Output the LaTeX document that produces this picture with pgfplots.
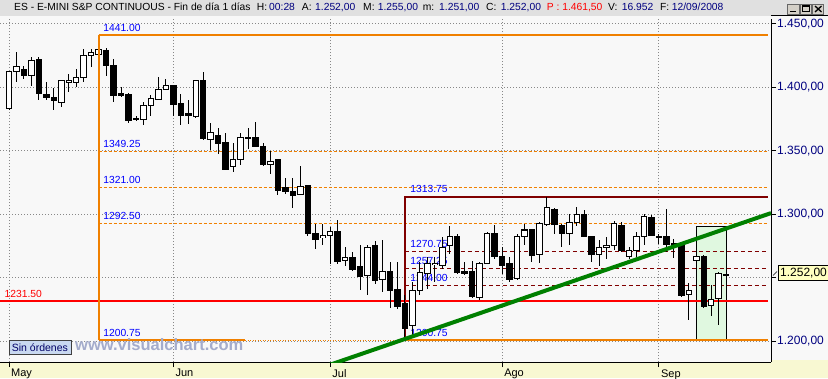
\documentclass[border=0pt]{standalone}
\usepackage{fontspec}
\setmainfont{Liberation Sans}
\usepackage{pgfplots}
\pgfplotsset{compat=1.18}
\usepackage{pgfplotstable}

\definecolor{fiborange}{RGB}{240,128,0}
\definecolor{fibred}{RGB}{128,0,0}
\definecolor{navy}{RGB}{0,0,128}
\definecolor{plotbg}{RGB}{248,248,248}
\definecolor{bandyellow}{RGB}{248,248,210}
\definecolor{titlegray}{RGB}{224,224,224}
\definecolor{gridgray}{RGB}{136,136,136}
\definecolor{trendgreen}{RGB}{0,128,0}
\definecolor{rectgreen}{RGB}{224,248,224}
\definecolor{lblue}{RGB}{0,0,255}
\definecolor{pricey}{RGB}{255,255,192}
\definecolor{sinbox}{RGB}{200,216,240}
\definecolor{wmark}{RGB}{164,172,204}
\definecolor{btngray}{RGB}{212,208,200}

\tikzset{lbl/.style={anchor=base west, inner sep=0pt, yshift=4pt, text=lblue, font=\fontsize{10.3}{12}\selectfont}}

\pgfplotstableread{
i O H L C
0 1383 1413 1382 1412
1 1412 1427.5 1404 1416.5
2 1414 1417 1406.5 1409
3 1409 1423.5 1401 1421
4 1422 1424 1389.5 1395
5 1394.5 1404 1389.5 1392
6 1392 1399 1382 1389.5
7 1388 1405.5 1384 1405
8 1404 1410.5 1396 1405
9 1404 1414.5 1400 1407.5
10 1407.5 1430 1404 1425
11 1425 1430 1415.5 1427
12 1426 1441 1422 1429.5
13 1429 1431 1409 1417
14 1417 1422 1388 1393.5
15 1395 1400 1392 1393.5
16 1394.5 1395 1372 1374
17 1375.5 1377 1373 1374.5
18 1374.5 1388 1370 1385.5
19 1385.5 1393.5 1377.5 1391
20 1390.5 1408 1389.5 1398
21 1398 1406.5 1397.5 1401
22 1401 1402 1377.5 1386
23 1387 1394.5 1370 1378
24 1379 1389.5 1371 1377.5
25 1377 1406 1376 1405
26 1405 1412 1358 1359.5
27 1359 1371.5 1350.5 1364
28 1362 1367.5 1347.5 1356
29 1356.5 1364 1335 1335.5
30 1337.5 1356 1333 1343
31 1343 1364 1339 1360
32 1360.5 1367.5 1351.5 1359.5
33 1360.5 1372.5 1353 1353.5
34 1353.5 1356 1338 1339
35 1339 1350 1331.5 1341.5
36 1343 1343.5 1315 1318.5
37 1321 1328.5 1316 1318
38 1318 1328.5 1305 1314.5
39 1315.5 1338 1315 1322
40 1322.5 1323 1283 1284.5
41 1285 1292.5 1272.5 1280
42 1281.5 1292.5 1275.5 1283
43 1283.5 1290 1261 1286.5
44 1286.5 1295 1261 1263
45 1263.5 1274 1259.5 1265.5
46 1265.5 1270 1255.5 1256.5
47 1259 1275.5 1240.5 1251
48 1251.5 1276 1236.5 1274
49 1275 1278.5 1245 1248
50 1248.5 1279.5 1238.5 1255
51 1255 1262 1226 1240
52 1240.5 1262 1225.5 1227.5
53 1229.5 1236 1200.75 1210
54 1212.5 1246.5 1203 1240
55 1240 1262 1236 1254
56 1253 1266 1241 1261
57 1260 1266 1246.5 1261.5
58 1259.5 1282 1257 1274
59 1275.5 1291 1268.5 1282
60 1282 1284.5 1253 1254
61 1254.5 1262 1252 1253
62 1255 1263 1234 1235.5
63 1234.5 1262.5 1232 1261.5
64 1261.5 1286 1260.5 1284.5
65 1284.5 1291.5 1265 1267
66 1267 1274 1253 1259.5
67 1261.5 1266 1246.5 1248.5
68 1249 1284 1248 1282.5
69 1282.5 1292.5 1275.5 1287.5
70 1288 1288.5 1262 1267.5
71 1268.5 1293.5 1261.5 1292.5
72 1292 1313.75 1291 1305.5
73 1303.5 1304.5 1284.5 1292
74 1291 1292 1274.5 1284.5
75 1284.5 1300 1275.5 1293.5
76 1293.5 1305.5 1291 1300
77 1300 1303 1282 1282.5
78 1282 1282.5 1262 1268.5
79 1268.5 1279.5 1259.5 1274
80 1274 1282 1265 1275.5
81 1275.5 1294.5 1271.5 1293
82 1291 1293.5 1270 1271.5
83 1266.5 1274 1265 1271.5
84 1271.5 1286 1266 1282.5
85 1282.5 1300 1275.5 1298
86 1297.5 1299 1282.5 1283
87 1282.5 1284.5 1276.5 1281.5
88 1282 1304 1270.5 1276
89 1276.5 1280.5 1265.5 1275.5
90 1276 1278 1235 1236
91 1237 1246 1216.5 1240
92 1263.5 1276.5 1263 1266.5
93 1267 1268 1226 1227.5
94 1228 1244.5 1220 1233
95 1233.5 1254.5 1212.5 1253.5
96 1252 1255 1251 1252
}\candles

\begin{document}
\begin{tikzpicture}[x=1pt,y=1pt]
\useasboundingbox (0,0) rectangle (828,378);
\fill[plotbg] (0,0) rectangle (828,378);
\fill[bandyellow] (0,0) rectangle (828,18);
\fill[titlegray] (0,362) rectangle (828,378);
\begin{axis}[
  at={(0,12.5)}, anchor=south west,
  scale only axis, width=771pt, height=343pt,
  xmin=-1.205, xmax=102.0, ymin=1183.46, ymax=1453.54,
  axis x line*=bottom, axis y line*=right,
  axis line style={black, line width=1pt},
  xtick={0,22,43,66,87}, xticklabels={May,Jun,Jul,Ago,Sep},
  ytick={1200,1250,1300,1350,1400,1450},
  yticklabels={{1.200,00},{},{1.300,00},{1.350,00},{1.400,00},{1.450,00}},
  tick align=outside, major tick length=5pt,
  tick style={black, line width=1pt},
  xmajorgrids, ymajorgrids,
  major grid style={gridgray, line width=1pt, dash pattern=on 1pt off 2pt},
  xticklabel style={anchor=north west, inner sep=0pt, xshift=2pt, yshift=-2pt, font=\fontsize{11}{12}\selectfont, text=black},
  yticklabel style={anchor=west, inner sep=0pt, xshift=1pt, font=\fontsize{12}{13}\selectfont, text=navy},
  axis background/.style={fill=plotbg},
]
% green rectangle
\addplot[draw=black, line width=1pt, fill=rectgreen] coordinates {(91.97,1200.75) (91.97,1290.3) (96.1,1290.3) (96.1,1200.75) (91.97,1200.75)};
% fibonacci (orange) levels
\addplot[fiborange, line width=1pt, dash pattern=on 3pt off 2pt] coordinates {(12,1349.25) (101.6,1349.25)};
\addplot[fiborange, line width=1pt, dash pattern=on 3pt off 2pt] coordinates {(12,1321) (101.6,1321)};
\addplot[fiborange, line width=1pt, dash pattern=on 3pt off 2pt] coordinates {(12,1292.5) (101.6,1292.5)};
\addplot[fiborange, line width=2pt] coordinates {(12,1441) (101.6,1441)};
\addplot[fiborange, line width=2pt] coordinates {(12,1200.75) (31.6,1200.75)};
\addplot[fiborange, line width=1pt, dash pattern=on 1pt off 1.5pt] coordinates {(31.6,1200.75) (53,1200.75)};
\addplot[fiborange, line width=2pt] coordinates {(53,1200.75) (101.6,1200.75)};
% dark red levels
\addplot[fibred, line width=1pt, dash pattern=on 4pt off 3pt] coordinates {(53,1270.75) (101.6,1270.75)};
\addplot[fibred, line width=1pt, dash pattern=on 4pt off 3pt] coordinates {(53,1257.25) (101.6,1257.25)};
\addplot[fibred, line width=1pt, dash pattern=on 4pt off 3pt] coordinates {(53,1244) (101.6,1244)};
\addplot[fibred, line width=2pt] coordinates {(53,1200.75) (53,1313.75) (101.6,1313.75)};
% red support
\addplot[red, line width=2pt] coordinates {(-1.3,1231.5) (101.6,1231.5)};
% labels
\node[lbl] at (axis cs:12.6,1441) {1441.00};
\node[lbl] at (axis cs:12.6,1349.25) {1349.25};
\node[lbl] at (axis cs:12.6,1321) {1321.00};
\node[lbl] at (axis cs:12.6,1292.5) {1292.50};
\node[lbl] at (axis cs:12.6,1200.75) {1200.75};
\node[lbl] at (axis cs:53.7,1313.75) {1313.75};
\node[lbl] at (axis cs:53.7,1270.75) {1270.75};
\node[lbl] at (axis cs:53.7,1257.25) {1257.25};
\node[lbl] at (axis cs:53.7,1244) {1244.00};
\node[lbl] at (axis cs:53.7,1200.75) {1200.75};
\node[lbl, text=red] at (axis cs:-0.6,1231.5) {1231.50};
% candles: wicks (high-low)
\addplot[draw=none, mark=none, error bars/.cd, y dir=both, y explicit, error mark=none,
  error bar style={draw=black, line width=1pt, solid}]
  table[x=i, y expr={(\thisrow{H}+\thisrow{L})/2}, y error expr={(\thisrow{H}-\thisrow{L})/2}] {\candles};
% candle bodies: black outline/fill
\addplot[draw=none, mark=none, error bars/.cd, y dir=both, y explicit, error mark=none,
  error bar style={draw=black, line width=6.5pt, solid, line cap=butt}]
  table[x=i, y expr={(\thisrow{O}+\thisrow{C})/2}, y error expr={max(abs(\thisrow{C}-\thisrow{O})/2,0.5)+0.4}] {\candles};
% candle bodies: white interior of rising candles
\addplot[draw=none, mark=none, error bars/.cd, y dir=both, y explicit, error mark=none,
  error bar style={draw=white, line width=4.5pt, solid, line cap=butt}]
  table[x=i, y expr={(\thisrow{O}+\thisrow{C})/2}, y error expr={(\thisrow{C}>\thisrow{O}) ? max(abs(\thisrow{C}-\thisrow{O})/2-0.4,0) : 0}] {\candles};
% orange vertical over candle
\addplot[fiborange, line width=2pt] coordinates {(12,1200.75) (12,1441)};
% trend line
\addplot[trendgreen, line width=4pt] coordinates {(40,1175.4) (102,1300.8)};
\end{axis}
% top border of right scale box
\draw[black, line width=1pt] (771,362) -- (828,362);
% current price box
\draw[black, line width=0.6pt] (773,102.5) -- (777,106.5);
\draw[black, fill=pricey, line width=1pt] (778.5,97) rectangle (828,112.3);
\node[anchor=west, inner sep=0pt, font=\fontsize{12}{13}\selectfont] at (780,104.7) {1.252,00};
% sin ordenes + watermark
\draw[black!75, fill=sinbox, line width=1pt] (9.3,23.7) rectangle (71.7,38);
\node[anchor=base west, inner sep=0pt, text=navy!80!black, font=\fontsize{10.5}{12}\selectfont] at (11.7,27) {Sin órdenes};
\node[anchor=base west, inner sep=0pt, text=wmark, font=\bfseries\fontsize{16.5}{18}\selectfont] at (75,28) {www.visualchart.com};
% title bar text
\begin{scope}[every node/.style={anchor=base west, inner sep=0pt, font=\fontsize{10.3}{12}\selectfont}]
\node at (14,367) {ES - E-MINI S\&P CONTINUOUS - Fin de día 1 días};
\node at (256.7,367) {H:};
\node[text=navy] at (269,367) {00:28};
\node at (301.7,367) {A:};
\node[text=navy] at (315,367) {1.252,00};
\node at (363,367) {M:};
\node[text=navy] at (377.7,367) {1.255,00};
\node at (422.7,367) {m:};
\node[text=navy] at (439,367) {1.251,00};
\node at (486,367) {C:};
\node[text=navy] at (500.7,367) {1.252,00};
\node[text=red] at (546.7,367) {P : 1.461,50};
\node at (608,367) {V:};
\node[text=navy] at (621.7,367) {16.952};
\node at (660,367) {F:};
\node[text=navy] at (671.7,367) {12/09/2008};
\end{scope}
% window buttons
\foreach \bx in {787.7,800,812.3}{
  \draw[black!60, fill=btngray, line width=0.8pt] (\bx,364) rectangle ++(11.5,10);
}
\draw[black, line width=1.5pt] (790,366.5) -- (795.5,366.5);
\draw[black, line width=1pt] (802.5,366) rectangle (809,372);
\draw[black, line width=1.5pt] (802.5,371.3) -- (809,371.3);
\draw[black, line width=1.3pt] (815,366) -- (821.5,372) (815,372) -- (821.5,366);
\end{tikzpicture}
\end{document}
